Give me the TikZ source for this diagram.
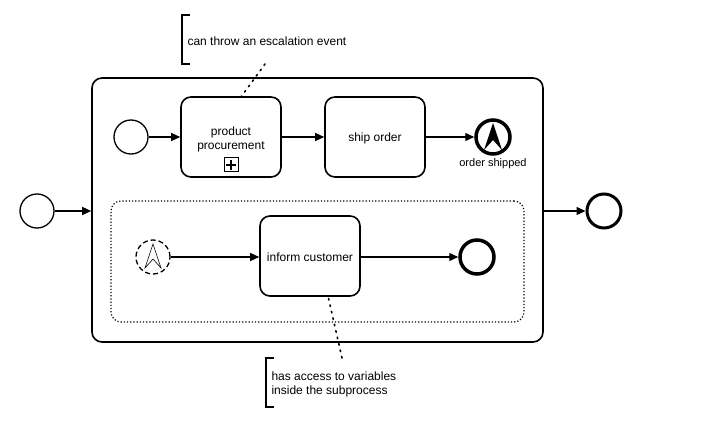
\documentclass[tikz,border=0pt]{standalone}
\usepackage{fontspec}
\setmainfont{Liberation Sans}
\usetikzlibrary{arrows.meta,positioning,calc}
\begin{document}
\begin{tikzpicture}[x=1pt,y=-1pt,
  every node/.style={font=\fontsize{12}{14}\selectfont},
  task/.style={draw,line width=1.6pt,rounded corners=10pt,minimum width=100pt,minimum height=80pt,align=center,inner sep=0pt},
  tasklabel/.style={align=center,inner sep=0pt},
  startev/.style={draw,circle,line width=1.3pt,minimum size=34pt,inner sep=0pt},
  endev/.style={draw,circle,line width=3.5pt,minimum size=34pt,inner sep=0pt},
  flow/.style={line width=1.3pt,-{Triangle[length=9pt,width=8pt]}},
  assoc/.style={line width=1.6pt,dash pattern=on 1.6pt off 5pt,line cap=round},
  note/.style={line width=1.6pt},
  notetext/.style={anchor=west,align=left,font=\fontsize{12}{14}\selectfont}]
\useasboundingbox (0,0) rectangle (716,422);
% main subprocess
\node[draw,line width=1.6pt,rounded corners=10pt,minimum width=451pt,minimum height=264pt,inner sep=0pt] (sub) at (317.5,210) {};
% event subprocess
\node[draw,line width=1.2pt,dotted,rounded corners=10pt,minimum width=413pt,minimum height=121pt,inner sep=0pt] (evsub) at (317.5,261.5) {};
% outer events
\node[startev] (s0) at (37,211) {};
\node[endev,line width=3pt] (e0) at (604,211) {};
\draw[flow] (s0) -- (s0 -| sub.west);
\draw[flow] (e0 -| sub.east) -- (e0);
% top row
\node[startev] (s1) at (131,137) {};
\node[task] (pp) at (231,137) {};
\node[tasklabel] (ppl) at (231,139) {product\\procurement};
\node[draw,line width=1pt,minimum size=14pt,inner sep=0pt] (ppm) at (231,165) {};
\draw[line width=1.2pt] ($(ppm.center)+(-5,0)$) -- ($(ppm.center)+(5,0)$) ($(ppm.center)+(0,-5)$) -- ($(ppm.center)+(0,5)$);
\node[task] (so) at (375,137) {};
\node[tasklabel] (sol) at (375,138) {ship order};
\node[endev] (e1) at (493,137) {};
\fill (493,123) -- (502,150) -- (493,140) -- (484,150) -- cycle;
\node[font=\fontsize{11}{13}\selectfont] (e1l) at (493,164) {order shipped};
\draw[flow] (s1) -- (pp);
\draw[flow] (pp) -- (so);
\draw[flow] (so) -- (e1);
% event subprocess content
\node[startev,dash pattern=on 5pt off 3pt] (s2) at (153,257) {};
\draw[line width=0.6pt,line join=miter] (153,244) -- (161,268) -- (153,259) -- (145,268) -- cycle;
\node[task] (ic) at (310,256) {};
\node[tasklabel] (icl) at (310,257) {inform customer};
\node[endev] (e2) at (477,257) {};
\draw[flow] (s2) -- (ic.west |- s2);
\draw[flow] (ic.east |- e2) -- (e2);
% annotations
\draw[note] (190,15) -- (182,15) -- (182,64) -- (190,64);
\node[notetext] (n1) at (184,41) {can throw an escalation event};
\coordinate (n1a) at (265,64);
\coordinate (n1b) at (241,97);
\draw[assoc] (n1a) -- (n1b);
\draw[note] (274,358) -- (266,358) -- (266,407) -- (274,407);
\node[notetext] (n2) at (268,384) {has access to variables\\inside the subprocess};
\coordinate (n2a) at (342,358);
\coordinate (n2b) at (328,296);
\draw[assoc] (n2a) -- (n2b);
\end{tikzpicture}
\end{document}
